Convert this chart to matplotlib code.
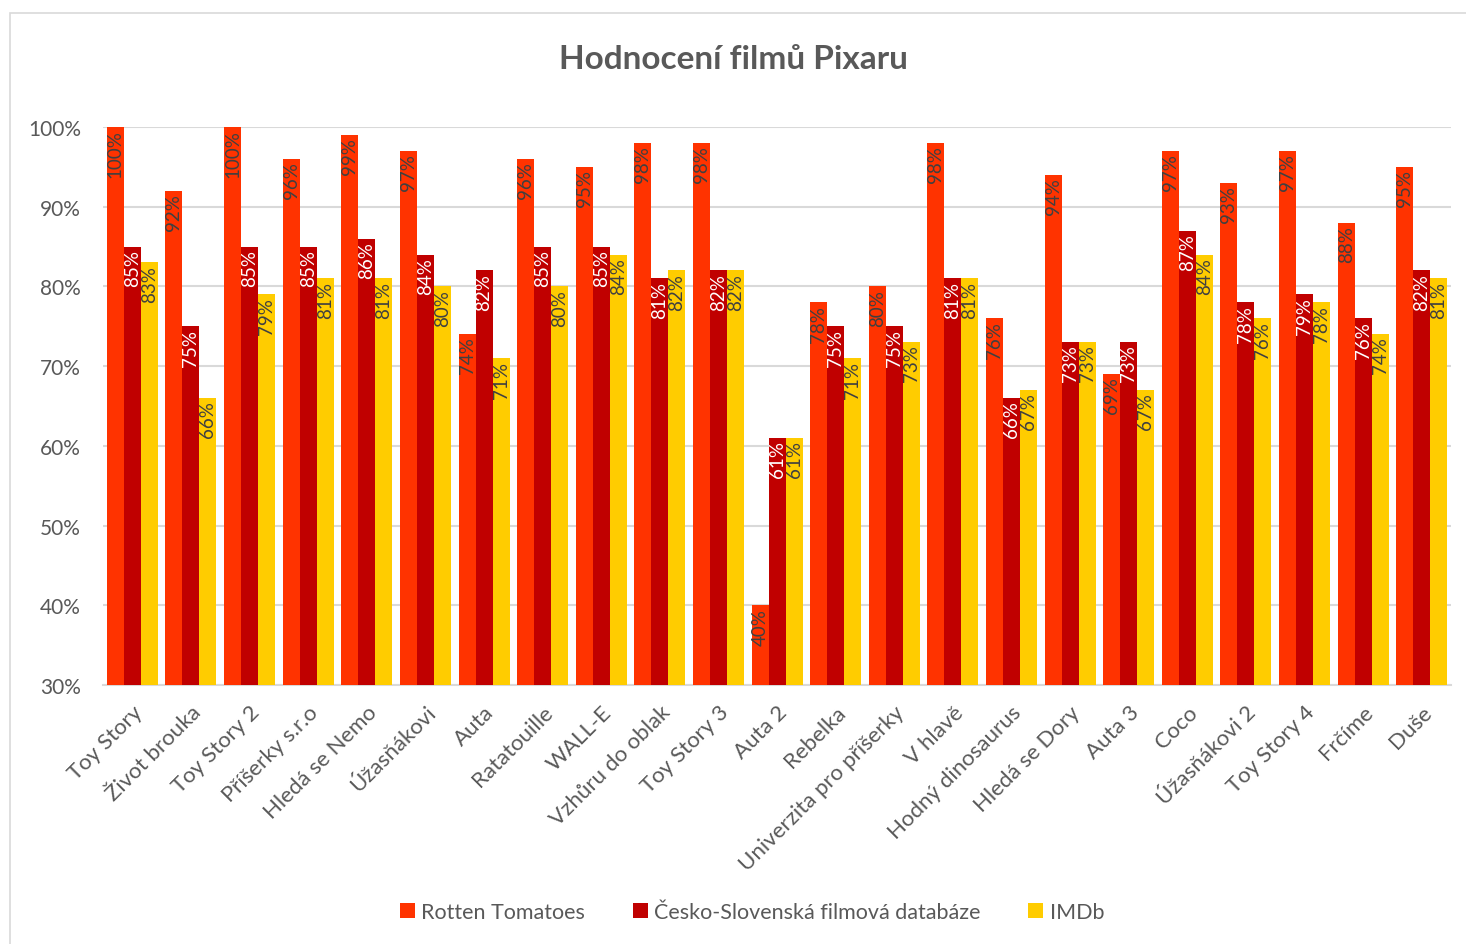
# Pixar film ratings - grouped bar chart (Rotten Tomatoes / CSFD / IMDb)
import numpy as np
import matplotlib
matplotlib.use("Agg")
import matplotlib.pyplot as plt
from matplotlib.patches import Rectangle
from matplotlib.ticker import PercentFormatter

# ---------------------------------------------------------------------------
# DATA
# ---------------------------------------------------------------------------
films = ["Toy Story", "Život brouka", "Toy Story 2", "Příšerky s.r.o",
         "Hledá se Nemo", "Úžasňákovi", "Auta", "Ratatouille", "WALL-E",
         "Vzhůru do oblak", "Toy Story 3", "Auta 2", "Rebelka",
         "Univerzita pro příšerky", "V hlavě", "Hodný dinosaurus",
         "Hledá se Dory", "Auta 3", "Coco", "Úžasňákovi 2", "Toy Story 4",
         "Frčíme", "Duše"]

rotten_tomatoes = [100, 92, 100, 96, 99, 97, 74, 96, 95, 98, 98, 40, 78,
                   80, 98, 76, 94, 69, 97, 93, 97, 88, 95]
csfd = [85, 75, 85, 85, 86, 84, 82, 85, 85, 81, 82, 61, 75,
        75, 81, 66, 73, 73, 87, 78, 79, 76, 82]
imdb = [83, 66, 79, 81, 81, 80, 71, 80, 84, 82, 82, 61, 71,
        73, 81, 67, 73, 67, 84, 76, 78, 74, 81]

series_names = ["Rotten Tomatoes", "Česko-Slovenská filmová databáze", "IMDb"]
series_colors = ["#FF3300", "#C00000", "#FFCC00"]
label_colors = ["#404040", "#FFFFFF", "#404040"]

# ---------------------------------------------------------------------------
# STYLE
# ---------------------------------------------------------------------------
plt.rcParams["font.family"] = ["Lato", "DejaVu Sans"]
TEXT_GRAY = "#595959"

fig = plt.figure(figsize=(14.66, 9.45), dpi=100)
ax = fig.add_axes([0.0703, 0.2741, 0.9195, 0.5905])

# light chart frame like the spreadsheet chart area
fig.patches.append(Rectangle((10 / 1466, -0.05), 1.2, 0.05 + (945 - 14) / 945,
                             transform=fig.transFigure, fill=False,
                             edgecolor="#D9D9D9", linewidth=1.2))

x = np.arange(len(films))
width = 0.29
all_series = [rotten_tomatoes, csfd, imdb]

for i, (vals, name, col, lcol) in enumerate(zip(all_series, series_names,
                                                 series_colors, label_colors)):
    offs = (i - 1) * width
    bars = ax.bar(x + offs, np.array(vals) / 100, width, color=col,
                  label=name, zorder=3)
    # data labels inside the top of each bar, rotated
    for rect, v in zip(bars, vals):
        ax.text(rect.get_x() + rect.get_width() / 2, v / 100 - 0.003,
                f"{v}%", rotation=90, ha="center", va="top",
                fontsize=13.5, color=lcol, zorder=4)

ax.set_ylim(0.3, 1.0)
ax.set_xlim(-0.5, len(films) - 0.5)
ax.set_yticks(np.arange(0.3, 1.01, 0.1))
ax.yaxis.set_major_formatter(PercentFormatter(1.0, decimals=0))
ax.grid(axis="y", color="#D9D9D9", linewidth=1.5, zorder=0)

for s in ["top", "right", "left"]:
    ax.spines[s].set_visible(False)
ax.spines["bottom"].set_color("#D9D9D9")
ax.spines["bottom"].set_linewidth(1.5)

ax.tick_params(axis="both", length=0, colors=TEXT_GRAY, labelsize=15)
ax.tick_params(axis="y", pad=16)
ax.set_xticks(x)
ax.set_xticklabels(films, rotation=45, ha="right", rotation_mode="anchor",
                   fontsize=16, color=TEXT_GRAY)
ax.tick_params(axis="x", pad=12)

fig.text(0.5, 0.937, "Hodnocení filmů Pixaru", ha="center", va="center",
         fontsize=24, fontweight="bold", color=TEXT_GRAY)

fig.legend(loc="center", bbox_to_anchor=(0.513, 0.034), ncol=3,
           frameon=False, fontsize=15.5, labelcolor=TEXT_GRAY,
           handlelength=0.7, handleheight=0.7, handletextpad=0.3,
           columnspacing=2.2)

plt.savefig("out.png", dpi=100)
